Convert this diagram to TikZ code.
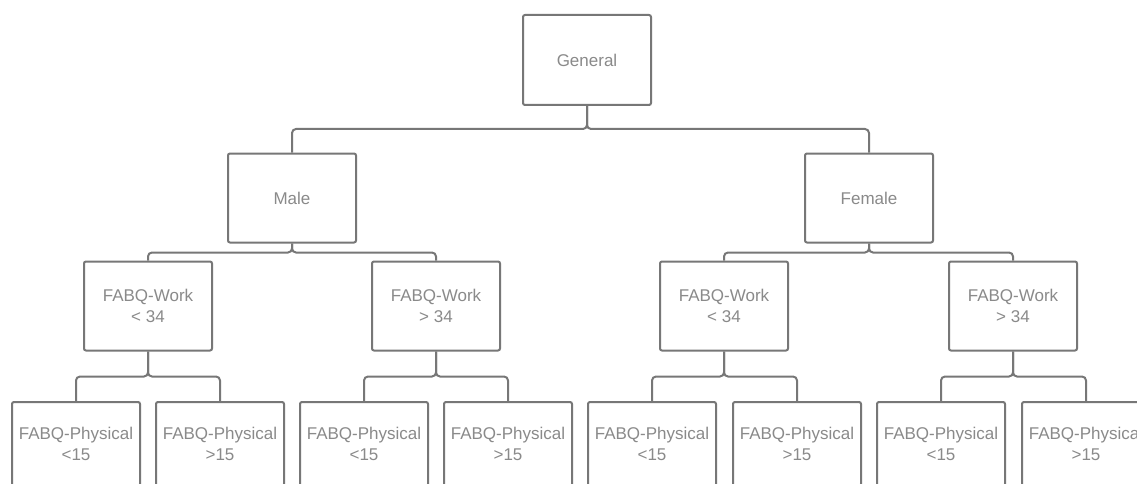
\documentclass[tikz,border=0pt]{standalone}
\usepackage{fontspec}
\setmainfont{Liberation Sans}
\definecolor{linec}{HTML}{777777}
\definecolor{textc}{HTML}{8A8A8A}
\begin{document}
\begin{tikzpicture}[x=1pt,y=-1pt,
  box/.style={draw=linec, line width=2pt, rounded corners=2pt, minimum width=128pt,
    minimum height=89pt, inner sep=0pt, text=textc, align=center,
    font=\fontsize{17}{21}\selectfont},
  leaf/.style={box, minimum height=84pt},
  conn/.style={draw=linec, line width=2pt, rounded corners=4pt}]
\useasboundingbox (0,0) rectangle (1137,484);
\clip (0,0) rectangle (1137,484);
\fill[white] (0,0) rectangle (1137,484);
\node[box, minimum height=90pt] (gen) at (587,60) {General};
\node[box] (male) at (292,198) {Male};
\node[box] (female) at (869,198) {Female};
\node[box] (m1) at (148,306) {FABQ-Work\\< 34};
\node[box] (m2) at (436,306) {FABQ-Work\\> 34};
\node[box] (f1) at (724,306) {FABQ-Work\\< 34};
\node[box] (f2) at (1013,306) {FABQ-Work\\> 34};
\node[leaf] (m1a) at (76,444) {FABQ-Physical\\<15};
\node[leaf] (m1b) at (220,444) {FABQ-Physical\\>15};
\node[leaf] (m2a) at (364,444) {FABQ-Physical\\<15};
\node[leaf] (m2b) at (508,444) {FABQ-Physical\\>15};
\node[leaf] (f1a) at (652,444) {FABQ-Physical\\<15};
\node[leaf] (f1b) at (797,444) {FABQ-Physical\\>15};
\node[leaf] (f2a) at (941,444) {FABQ-Physical\\<15};
\node[leaf] (f2b) at (1086,444) {FABQ-Physical\\>15};
\foreach \p/\a/\b in {gen/male/female}{
  \draw[conn] (\p.south) -- ++(0,23) -| (\a.north);
  \draw[conn] (\p.south) -- ++(0,23) -| (\b.north);
}
\foreach \p/\a/\b in {male/m1/m2, female/f1/f2}{
  \draw[conn] (\p.south) -- ++(0,9) -| (\a.north);
  \draw[conn] (\p.south) -- ++(0,9) -| (\b.north);
}
\foreach \p/\a/\b in {m1/m1a/m1b, m2/m2a/m2b, f1/f1a/f1b, f2/f2a/f2b}{
  \draw[conn] (\p.south) -- ++(0,25) -| (\a.north);
  \draw[conn] (\p.south) -- ++(0,25) -| (\b.north);
}
\end{tikzpicture}
\end{document}
